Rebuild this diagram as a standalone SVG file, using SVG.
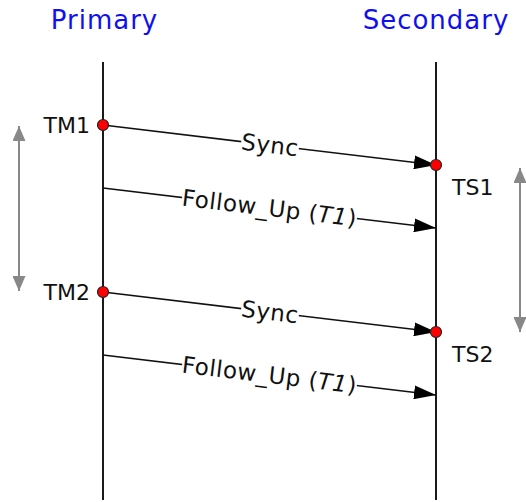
<svg xmlns="http://www.w3.org/2000/svg" width="526" height="502" viewBox="0 0 526 502">
<style>
text{font-family:"DejaVu Sans","Verdana",sans-serif;}
.title{font-size:26px;fill:#1010ee;text-anchor:middle;letter-spacing:1px;}
.lbl{font-size:22px;fill:#111;}
.msg{font-size:23px;fill:#111;text-anchor:middle;letter-spacing:0.5px;}
.life{stroke:#1a1a1a;stroke-width:2;fill:none;}
.arr{stroke:#111;stroke-width:1.5;fill:none;marker-end:url(#ah);}
.gap{fill:#fff;}
.dur{stroke:#888;stroke-width:2;fill:none;marker-start:url(#gh);marker-end:url(#gh);}
.evt{fill:#f00;stroke:#222;stroke-width:1.2;}
</style>
<defs>
<marker id="ah" markerUnits="userSpaceOnUse" markerWidth="22" markerHeight="14" refX="22" refY="7" orient="auto">
<path d="M0,0 L22,7 L0,14 z" fill="#000"/>
</marker>
<marker id="gh" markerUnits="userSpaceOnUse" markerWidth="15" markerHeight="13" refX="15" refY="6.5" orient="auto-start-reverse">
<path d="M0,0 L15,6.5 L0,13 z" fill="#888"/>
</marker>
</defs>
<rect width="526" height="502" fill="#fff"/>
<g id="primary">
<text class="title" x="104.5" y="29">Primary</text>
<line class="life" x1="103" y1="62" x2="103" y2="500"/>
</g>
<g id="secondary">
<text class="title" x="436" y="29">Secondary</text>
<line class="life" x1="436" y1="62" x2="436" y2="500"/>
</g>
<g id="connectors">
<line class="arr" x1="103" y1="125" x2="436" y2="165"/>
<g transform="translate(270,145) rotate(6.85)"><rect class="gap" x="-29" y="-4" width="58" height="8"/><text class="msg" x="0" y="8">Sync</text></g>
<line class="arr" x1="103" y1="188" x2="436" y2="228"/>
<g transform="translate(269.5,208) rotate(6.85)"><rect class="gap" x="-88" y="-4" width="176" height="8"/><text class="msg" x="0" y="8">Follow_Up (<tspan font-style="italic">T1</tspan>)</text></g>
<line class="arr" x1="103" y1="292" x2="436" y2="332"/>
<g transform="translate(270,312) rotate(6.85)"><rect class="gap" x="-29" y="-4" width="58" height="8"/><text class="msg" x="0" y="8">Sync</text></g>
<line class="arr" x1="103" y1="355" x2="436" y2="395"/>
<g transform="translate(269.5,375) rotate(6.85)"><rect class="gap" x="-88" y="-4" width="176" height="8"/><text class="msg" x="0" y="8">Follow_Up (<tspan font-style="italic">T1</tspan>)</text></g>
<line class="dur" x1="19" y1="126" x2="19" y2="291"/>
<line class="dur" x1="520" y1="168" x2="520" y2="332"/>
</g>
<g id="TM1"><circle class="evt" cx="103" cy="125" r="5.5"/><text class="lbl" x="90" y="133" text-anchor="end">TM1</text></g>
<g id="TM2"><circle class="evt" cx="103" cy="292" r="5.5"/><text class="lbl" x="90" y="300" text-anchor="end">TM2</text></g>
<g id="TS1"><circle class="evt" cx="436" cy="165" r="5.5"/><text class="lbl" x="452" y="195">TS1</text></g>
<g id="TS2"><circle class="evt" cx="436" cy="332" r="5.5"/><text class="lbl" x="452" y="362">TS2</text></g>
</svg>
